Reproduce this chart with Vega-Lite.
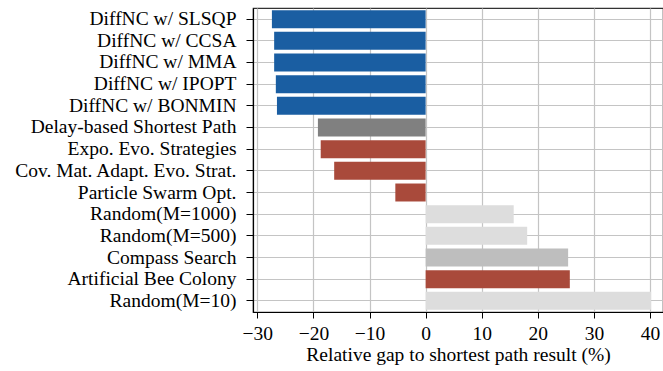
{
  "$schema": "https://vega.github.io/schema/vega-lite/v6.json",
  "autosize": "none",
  "padding": {"left": 253, "top": 8, "right": 0, "bottom": 59},
  "width": 410,
  "height": 304,
  "config": {
    "font": "Liberation Serif",
    "view": {"stroke": "#333333", "strokeWidth": 1.2},
    "axis": {
      "labelFont": "Liberation Serif",
      "titleFont": "Liberation Serif",
      "labelColor": "#000000",
      "titleColor": "#000000",
      "domainColor": "#000000",
      "tickColor": "#000000",
      "gridColor": "#c4c4c4",
      "gridWidth": 1.2
    }
  },
  "data": {
    "values": [
      {"method": "DiffNC w/ SLSQP", "gap": -27.4, "group": "ours"},
      {"method": "DiffNC w/ CCSA", "gap": -27.0, "group": "ours"},
      {"method": "DiffNC w/ MMA", "gap": -27.0, "group": "ours"},
      {"method": "DiffNC w/ IPOPT", "gap": -26.7, "group": "ours"},
      {"method": "DiffNC w/ BONMIN", "gap": -26.5, "group": "ours"},
      {"method": "Delay-based Shortest Path", "gap": -19.2, "group": "sp"},
      {"method": "Expo. Evo. Strategies", "gap": -18.7, "group": "evo"},
      {"method": "Cov. Mat. Adapt. Evo. Strat.", "gap": -16.3, "group": "evo"},
      {"method": "Particle Swarm Opt.", "gap": -5.4, "group": "evo"},
      {"method": "Random(M=1000)", "gap": 15.7, "group": "random"},
      {"method": "Random(M=500)", "gap": 18.1, "group": "random"},
      {"method": "Compass Search", "gap": 25.4, "group": "compass"},
      {"method": "Artificial Bee Colony", "gap": 25.7, "group": "evo"},
      {"method": "Random(M=10)", "gap": 40.2, "group": "random"}
    ]
  },
  "mark": {"type": "bar"},
  "encoding": {
    "y": {
      "field": "method",
      "type": "nominal",
      "sort": null,
      "scale": {"paddingInner": 0.17, "paddingOuter": 0.1},
      "axis": {
        "title": null,
        "grid": true,
        "labelFont": "Liberation Serif",
        "labelFontSize": 19.5,
        "labelLimit": 400,
        "tickSize": 7,
        "labelPadding": 10,
        "domainWidth": 1.2
      }
    },
    "x": {
      "field": "gap",
      "type": "quantitative",
      "scale": {"domain": [-30.77, 42.31], "nice": false, "zero": false},
      "axis": {
        "values": [-30, -20, -10, 0, 10, 20, 30, 40],
        "title": "Relative gap to shortest path result (%)",
        "titleFont": "Liberation Serif",
        "titleFontSize": 19.5,
        "titleFontWeight": "normal",
        "titlePadding": 3,
        "labelFont": "Liberation Serif",
        "labelFontSize": 19.5,
        "tickSize": 6,
        "labelPadding": 6,
        "domainWidth": 1.2,
        "grid": true
      }
    },
    "color": {
      "field": "group",
      "type": "nominal",
      "legend": null,
      "scale": {
        "domain": ["ours", "sp", "evo", "random", "compass"],
        "range": ["#1a5ea2", "#808080", "#a94a3b", "#dddddd", "#bebebe"]
      }
    }
  }
}
